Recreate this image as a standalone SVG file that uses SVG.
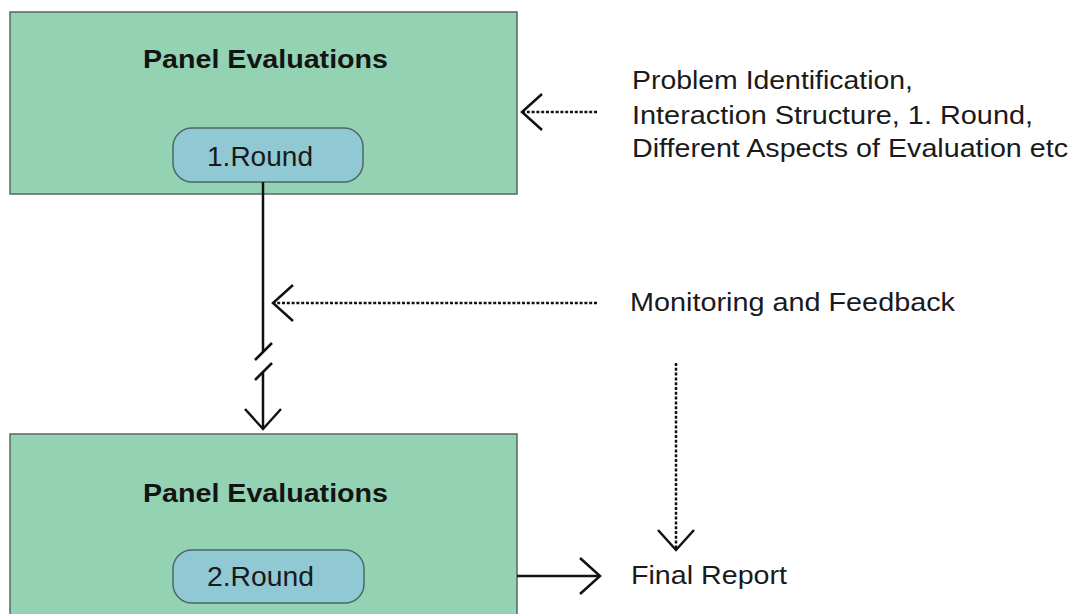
<svg xmlns="http://www.w3.org/2000/svg" width="1077" height="614" viewBox="0 0 1077 614">
  <defs>
    <style>
      .box { fill: #93d3b4; stroke: #5b6660; stroke-width: 1.5; }
      .pill { fill: #90c9d3; stroke: #4f6663; stroke-width: 1.5; }
      .title { font-family: "Liberation Sans", Arial, sans-serif; font-weight: bold; font-size: 25px; fill: #141414; }
      .round { font-family: "Liberation Sans", Arial, sans-serif; font-size: 28px; fill: #1a1a1a; }
      .label { font-family: "Liberation Sans", Arial, sans-serif; font-size: 25px; fill: #1a1a1a; }
      .solid { fill: none; stroke: #111; stroke-width: 2.5; }
      .dotted { fill: none; stroke: #111; stroke-width: 2.5; stroke-dasharray: 3 1.8; }
      .head { fill: none; stroke: #111; stroke-width: 2.5; stroke-dasharray: none; stroke-linejoin: miter; }
    </style>
    <marker id="open" markerUnits="userSpaceOnUse" markerWidth="48" markerHeight="48" viewBox="-24 -24 48 48" refX="0" refY="0" orient="auto">
      <path class="head" d="M -20 -18 L 0 0 L -20 18"/>
    </marker>
  </defs>

  <g id="node-panel-1">
    <rect class="box" x="10" y="12" width="507" height="182"/>
    <text class="title" x="143" y="68" textLength="245" lengthAdjust="spacingAndGlyphs">Panel Evaluations</text>
  </g>
  <g id="node-round-1">
    <rect class="pill" x="173" y="128" width="190" height="54" rx="19" ry="19"/>
    <text class="round" x="207" y="166" textLength="106" lengthAdjust="spacingAndGlyphs">1.Round</text>
  </g>

  <g id="node-panel-2">
    <rect class="box" x="10" y="434" width="507" height="190"/>
    <text class="title" x="143" y="502" textLength="245" lengthAdjust="spacingAndGlyphs">Panel Evaluations</text>
  </g>
  <g id="node-round-2">
    <rect class="pill" x="173" y="550" width="191" height="53" rx="19" ry="19"/>
    <text class="round" x="207" y="586" textLength="107" lengthAdjust="spacingAndGlyphs">2.Round</text>
  </g>

  <g id="node-inputs">
    <text class="label" x="632" y="89" textLength="281" lengthAdjust="spacingAndGlyphs">Problem Identification,</text>
    <text class="label" x="632" y="124" textLength="401" lengthAdjust="spacingAndGlyphs">Interaction Structure, 1. Round,</text>
    <text class="label" x="632" y="157" textLength="436" lengthAdjust="spacingAndGlyphs">Different Aspects of Evaluation etc</text>
  </g>
  <g id="node-monitoring">
    <text class="label" x="630" y="311" textLength="325" lengthAdjust="spacingAndGlyphs">Monitoring and Feedback</text>
  </g>
  <g id="node-final">
    <text class="label" x="631" y="584" textLength="156" lengthAdjust="spacingAndGlyphs">Final Report</text>
  </g>

  <g id="connectors">
    <line class="dotted" x1="597" y1="112" x2="522" y2="112" marker-end="url(#open)"/>
    <line class="solid" x1="263" y1="182" x2="263" y2="352"/>
    <line class="solid" x1="255" y1="360" x2="272" y2="343"/>
    <line class="solid" x1="255" y1="380" x2="272" y2="363"/>
    <line class="solid" x1="263" y1="372" x2="263" y2="429" marker-end="url(#open)"/>
    <line class="dotted" x1="597" y1="303" x2="273" y2="303" marker-end="url(#open)"/>
    <line class="dotted" x1="676" y1="363" x2="676" y2="550" marker-end="url(#open)"/>
    <line class="solid" x1="517" y1="576" x2="600" y2="576" marker-end="url(#open)"/>
  </g>
</svg>
